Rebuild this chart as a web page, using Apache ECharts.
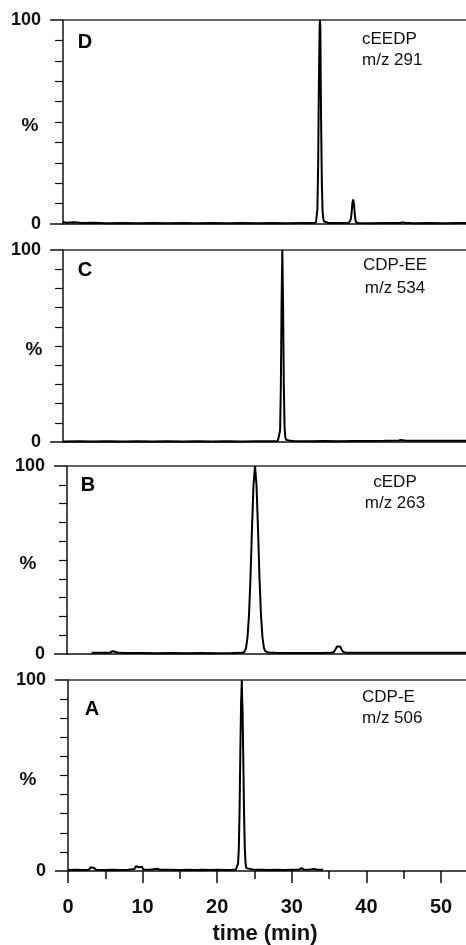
<!DOCTYPE html>
<html>
<head>
<meta charset="utf-8">
<script src="https://cdn.jsdelivr.net/npm/echarts@6/dist/echarts.min.js"></script>
<style>
html,body{margin:0;padding:0;background:#fff;}
#chart{width:466px;height:945px;}
</style>
</head>
<body>
<div id="chart"></div>
<script>
// Panel D: cEEDP m/z 291
var timeD = [0,0.5,1.5,2.5,4,6,8,10,12,14,16,18,20,22,24,26,28,30,32,33.5,33.9,34.0,34.1,34.2,34.3,34.4,34.45,34.5,34.55,34.6,34.7,34.8,34.9,35.0,35.2,35.6,36.5,37.5,38.3,38.5,38.6,38.7,38.8,38.9,39.0,39.1,39.2,39.3,39.6,41,43,45,45.5,45.7,45.9,47,49,51,53,55];
var valD  = [1.0,0.6,0.8,0.5,0.6,0.4,0.5,0.4,0.5,0.4,0.5,0.4,0.5,0.4,0.5,0.4,0.5,0.4,0.5,0.5,0.6,1.5,7,28,68,96,100,96,70,50,20,6,2.5,1.2,0.7,0.5,0.5,0.5,0.5,1,2.5,6,10.5,12,10,5.5,2,0.8,0.5,0.4,0.5,0.5,0.8,1.3,0.6,0.4,0.5,0.4,0.5,0.4];
// Panel C: CDP-EE m/z 534
var timeC = [0,2,4,6,8,10,12,14,16,18,20,22,24,26,28,28.8,29.0,29.1,29.2,29.3,29.4,29.5,29.6,29.7,29.8,29.9,30.1,30.5,31,33,35,37,39,41,43,45,45.3,46,48,50,52,55];
var valC  = [0.3,0.4,0.3,0.4,0.3,0.4,0.3,0.4,0.3,0.4,0.3,0.4,0.3,0.4,0.4,0.5,1.5,6,28,72,100,72,30,8,2.5,1.2,0.7,0.6,0.5,0.4,0.5,0.4,0.5,0.5,0.6,0.8,1,0.6,0.7,0.6,0.7,0.6];
// Panel B: cEDP m/z 263
var timeB = [3.3,4,5,5.8,6.1,6.3,6.5,6.8,8,10,12,14,16,18,20,22,23.5,23.8,24.0,24.2,24.4,24.6,24.8,25.0,25.2,25.4,25.6,25.8,26.0,26.2,26.4,26.6,27,28,30,32,34,35.5,35.8,36.0,36.2,36.4,36.6,36.8,37.0,37.3,38,40,42,44,46,48,50,52,55];
var valB  = [0.6,0.7,0.6,0.7,1.5,2.2,1.2,0.6,0.5,0.5,0.4,0.5,0.4,0.5,0.4,0.5,0.6,1.2,3.2,9,21,41,67,90,100,90,67,41,21,9,3.2,1.4,0.8,0.6,0.5,0.5,0.5,0.6,1.2,2.5,4,4.6,4,2.5,1.2,0.7,0.6,0.6,0.6,0.6,0.7,0.6,0.6,0.6,0.6];
// Panel A: CDP-E m/z 506
var timeA = [0,1,2,2.8,3.1,3.3,3.5,3.8,5,6,7,8,8.9,9.1,9.3,9.5,9.7,9.9,10.1,11,12,12.3,13.5,15,16,17,18,19,20,21,22,22.5,22.7,22.8,22.9,23.0,23.1,23.2,23.3,23.35,23.4,23.5,23.6,23.7,23.8,23.9,24.1,25,26,27,28,29,30,31,31.3,31.6,32.5,33,33.4,34.2];
var valA  = [0.5,0.6,0.5,0.7,2,2.6,1.5,0.6,0.5,0.7,0.5,0.6,1,2.5,2.8,2,2.8,2.2,0.8,0.6,1.2,0.6,0.7,0.5,0.6,0.5,0.6,0.5,0.6,0.5,0.6,0.7,1.5,4,12,32,62,88,100,89,84,58,30,12,4,1.5,0.8,0.6,0.7,0.5,0.6,0.5,0.7,0.8,1.5,0.7,0.8,1.1,0.7,0.6];

var yTicks = [0, 100];
var xTickLabels = [0, 10, 20, 30, 40, 50];
var panelLetters = ['D', 'C', 'B', 'A'];
var compounds = ['cEEDP', 'CDP-EE', 'cEDP', 'CDP-E'];
var masses = ['m/z 291', 'm/z 534', 'm/z 263', 'm/z 506'];
var xTitle = 'time (min)';

function zip(t, v) { return t.map(function (x, i) { return [x, v[i]]; }); }
var seriesData = [zip(timeD, valD), zip(timeC, valC), zip(timeB, valB), zip(timeA, valA)];

var FONT = "'Liberation Sans', Arial, sans-serif";
var pxPerMin = 7.46;
var XMAX = 55;
var layout = [
  {left: 63, top: 20, height: 204, pctX: 30},
  {left: 63, top: 250, height: 192, pctX: 34},
  {left: 67, top: 466, height: 188, pctX: 28},
  {left: 68, top: 680, height: 191, pctX: 28}
];
var textPos = [
  {letter: [85, 42], align: 'left', x: 362, y1: 39, y2: 60},
  {letter: [85, 270], align: 'center', x: 395, y1: 265, y2: 288},
  {letter: [88, 485], align: 'center', x: 395, y1: 482, y2: 503},
  {letter: [92, 709], align: 'left', x: 362, y1: 697, y2: 718}
];

var grids = [], xAxes = [], xTopAxes = [], yAxes = [], series = [], graphics = [];
layout.forEach(function (g, i) {
  var isBottom = (i === 3);
  grids.push({left: g.left, top: g.top, height: g.height, width: XMAX * pxPerMin,
    containLabel: false, outerBoundsMode: 'none'});
  xAxes.push({
    type: 'value', gridIndex: i, min: 0, max: XMAX, interval: 10, position: 'bottom',
    axisLine: {show: true, onZero: false, lineStyle: {color: '#111', width: 1.5}},
    axisTick: {show: isBottom, length: 12, lineStyle: {color: '#111', width: 1.5}},
    minorTick: {show: isBottom, splitNumber: 2, length: 8, lineStyle: {color: '#111', width: 1.5}},
    axisLabel: {show: isBottom, margin: 26, fontFamily: FONT, fontWeight: 'bold', fontSize: 20, color: '#111',
      formatter: function (v) { return xTickLabels.indexOf(v) >= 0 ? String(v) : ''; }},
    splitLine: {show: false}
  });
  xTopAxes.push({
    type: 'value', gridIndex: i, min: 0, max: XMAX, position: 'top',
    axisLine: {show: true, onZero: false, lineStyle: {color: '#333', width: 1.5}},
    axisTick: {show: false}, axisLabel: {show: false}, splitLine: {show: false}
  });
  yAxes.push({
    type: 'value', gridIndex: i, min: yTicks[0], max: yTicks[1], interval: 100,
    axisLine: {show: true, onZero: false, lineStyle: {color: '#111', width: 1.5}},
    axisTick: {show: true, length: 13, lineStyle: {color: '#111', width: 1.5}},
    minorTick: {show: true, splitNumber: 10, length: 8, lineStyle: {color: '#111', width: 1.2}},
    axisLabel: {margin: 22, fontFamily: FONT, fontWeight: 'bold', fontSize: 18, color: '#111'},
    splitLine: {show: false}
  });
  series.push({
    type: 'line', xAxisIndex: i, yAxisIndex: i, data: seriesData[i],
    showSymbol: false, symbol: 'none', silent: true,
    lineStyle: {color: '#000', width: 2}
  });
  var tp = textPos[i];
  graphics.push({type: 'text', x: g.pctX, y: g.top + g.height / 2 + 4,
    style: {text: '%', font: 'bold 19px ' + FONT, fill: '#111', align: 'center', verticalAlign: 'middle'}});
  graphics.push({type: 'text', x: tp.letter[0], y: tp.letter[1],
    style: {text: panelLetters[i], font: 'bold 20px ' + FONT, fill: '#000', align: 'center', verticalAlign: 'middle'}});
  graphics.push({type: 'text', x: tp.x, y: tp.y1,
    style: {text: compounds[i], font: '17px ' + FONT, fill: '#111', align: tp.align, verticalAlign: 'middle'}});
  graphics.push({type: 'text', x: tp.x, y: tp.y2,
    style: {text: masses[i], font: '17px ' + FONT, fill: '#111', align: tp.align, verticalAlign: 'middle'}});
});
graphics.push({type: 'text', x: 265, y: 934,
  style: {text: xTitle, font: 'bold 22px ' + FONT, fill: '#111', align: 'center', verticalAlign: 'middle'}});

var chart = echarts.init(document.getElementById('chart'), null, {renderer: 'canvas'});
chart.setOption({
  animation: false,
  backgroundColor: '#fff',
  grid: grids,
  xAxis: xAxes.concat(xTopAxes),
  yAxis: yAxes,
  series: series,
  graphic: graphics
});
</script>
</body>
</html>
